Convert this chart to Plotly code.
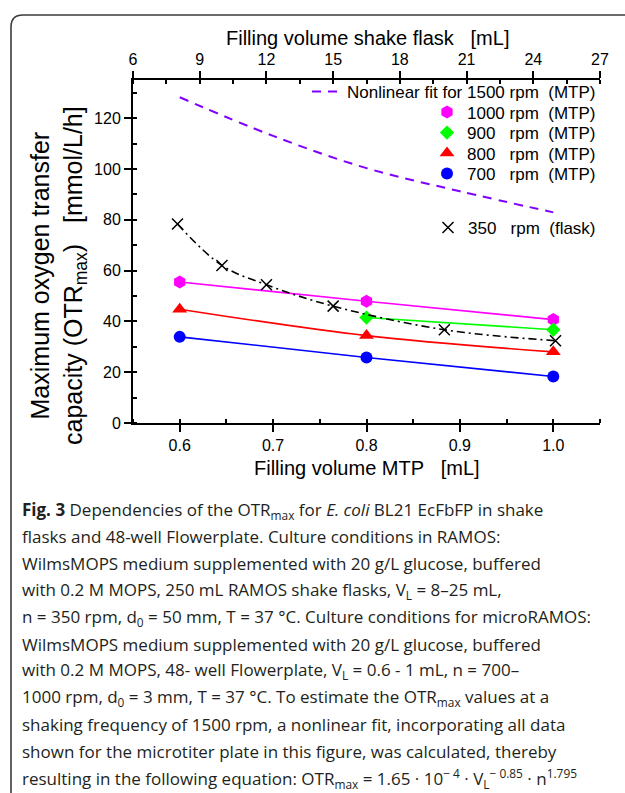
import plotly.graph_objects as go

# --- data -------------------------------------------------------------
vol_mtp = [0.6, 0.8, 1.0]                 # filling volume MTP [mL]
otr_1000 = [55.5, 47.9, 40.7]
otr_800 = [44.8, 34.4, 28.0]
otr_700 = [33.9, 25.8, 18.3]
vol_900 = [0.8, 1.0]
otr_900 = [41.5, 36.7]

vol_fit = [0.6, 0.7, 0.8, 0.9, 1.0]       # nonlinear fit, 1500 rpm
otr_fit_1500 = [128.2, 113.0, 100.3, 91.2, 82.9]

vol_flask = [8, 10, 12, 15, 20, 25]       # filling volume shake flask [mL]
otr_flask = [78.3, 62.0, 54.4, 46.0, 36.7, 32.4]

legend_labels = {
    "fit": "Nonlinear fit for 1500 rpm\u00a0\u00a0(MTP)",
    "1000": "1000 rpm\u00a0\u00a0(MTP)",
    "900": "900\u00a0\u00a0\u00a0rpm\u00a0\u00a0(MTP)",
    "800": "800\u00a0\u00a0\u00a0rpm\u00a0\u00a0(MTP)",
    "700": "700\u00a0\u00a0\u00a0rpm\u00a0\u00a0(MTP)",
    "flask": "350\u00a0\u00a0\u00a0rpm\u00a0\u00a0(flask)",
}

caption_lines = [
    "<b>Fig. 3</b> Dependencies of the OTR<sub>max</sub> for <i>E. coli</i> BL21 EcFbFP in shake",
    "flasks and 48-well Flowerplate. Culture conditions in RAMOS:",
    "WilmsMOPS medium supplemented with 20 g/L glucose, buffered",
    "with 0.2 M MOPS, 250 mL RAMOS shake flasks, V<sub>L</sub> = 8–25 mL,",
    "n = 350 rpm, d<sub>0</sub> = 50 mm, T = 37 °C. Culture conditions for microRAMOS:",
    "WilmsMOPS medium supplemented with 20 g/L glucose, buffered",
    "with 0.2 M MOPS, 48- well Flowerplate, V<sub>L</sub> = 0.6 - 1 mL, n = 700–",
    "1000 rpm, d<sub>0</sub> = 3 mm, T = 37 °C. To estimate the OTR<sub>max</sub> values at a",
    "shaking frequency of 1500 rpm, a nonlinear fit, incorporating all data",
    "shown for the microtiter plate in this figure, was calculated, thereby",
    "resulting in the following equation: OTR<sub>max</sub> = 1.65 · 10<sup>− 4</sup> · "
    "V<sub>L</sub><sup>− 0.85</sup> · n<sup>1.795</sup>",
]

# --- page geometry (pixels) -------------------------------------------
W, H = 625, 793
L, R, T, B = 133, 600, 80, 423   # plot area edges


def px(x):
    return (x - L) / (R - L)


def py(y):
    return (B - y) / (B - T)


SANS = "Liberation Sans, Arial, sans-serif"
CAP = "Open Sans, Noto Sans, sans-serif"

fig = go.Figure()

# fitted curve for 1500 rpm
fig.add_trace(go.Scatter(
    x=vol_fit, y=otr_fit_1500, mode="lines", line_shape="spline",
    line=dict(color="#8000ff", width=2, dash="9px,7px"),
    name=legend_labels["fit"], legend="legend",
))

series = [
    ("1000", vol_mtp, otr_1000, "#ff00ff", "hexagon", 13, "legend2"),
    ("900", vol_900, otr_900, "#00ff00", "diamond", 11, "legend3"),
    ("800", vol_mtp, otr_800, "#ff0000", "triangle-up", 13, "legend4"),
    ("700", vol_mtp, otr_700, "#0000ff", "circle", 12, "legend5"),
]
for key, xs, ys, col, sym, size, lg in series:
    fig.add_trace(go.Scatter(
        x=xs, y=ys, mode="lines", line_shape="spline",
        line=dict(color=col, width=1.6), showlegend=False, hoverinfo="skip",
    ))
    fig.add_trace(go.Scatter(
        x=xs, y=ys, mode="markers",
        marker=dict(color=col, symbol=sym, size=size, line=dict(width=0)),
        name=legend_labels[key], legend=lg,
    ))

# shake flask data on the top axis
fig.add_trace(go.Scatter(
    x=vol_flask, y=otr_flask, xaxis="x2", yaxis="y", mode="lines",
    line_shape="spline", line=dict(color="black", width=1.6, dash="8px,4px,2px,4px"),
    showlegend=False, hoverinfo="skip",
))
fig.add_trace(go.Scatter(
    x=vol_flask, y=otr_flask, xaxis="x2", yaxis="y", mode="markers",
    marker=dict(symbol="x-thin-open", size=11, color="black",
                line=dict(color="black", width=1.5)),
    name=legend_labels["flask"], legend="legend6",
))

axis_common = dict(
    showline=True, linecolor="black", linewidth=2, showgrid=False, zeroline=False,
    ticks="outside", ticklen=7, tickwidth=1.5, tickcolor="black",
    tickfont=dict(family=SANS, size=16, color="black"),
)
minor_common = dict(ticks="inside", ticklen=4, tickwidth=1.5, tickcolor="black", showgrid=False)

legend_rows = [("legend", 92), ("legend2", 112.5), ("legend3", 133),
               ("legend4", 153.5), ("legend5", 174), ("legend6", 228)]
legend_layout = {}
for name, yrow in legend_rows:
    legend_layout[name] = dict(
        x=px(601), xanchor="right", y=py(yrow), yanchor="middle",
        bgcolor="rgba(0,0,0,0)", borderwidth=0,
        font=dict(family=SANS, size=17, color="black"),
        itemclick=False, itemdoubleclick=False,
    )

annotations = [
    dict(text="Filling volume shake flask\u00a0\u00a0\u00a0[mL]", x=px(367), y=py(38),
         xref="paper", yref="paper", showarrow=False, xanchor="center", yanchor="middle",
         font=dict(family=SANS, size=20, color="black")),
    dict(text="Filling volume MTP\u00a0\u00a0\u00a0[mL]", x=px(367), y=py(468),
         xref="paper", yref="paper", showarrow=False, xanchor="center", yanchor="middle",
         font=dict(family=SANS, size=20, color="black")),
    dict(text="Maximum oxygen transfer<br>capacity (OTR<sub>max</sub>)\u00a0\u00a0\u00a0[mmol/L/h]",
         x=px(58), y=py(276), xref="paper", yref="paper", showarrow=False,
         xanchor="center", yanchor="middle", textangle=-90, align="center",
         font=dict(family=SANS, size=25, color="black")),
]
for i, line in enumerate(caption_lines):
    annotations.append(dict(
        text=line, x=px(20), y=py(510 + 26.8 * i), xref="paper", yref="paper",
        showarrow=False, xanchor="left", yanchor="middle", align="left",
        font=dict(family=CAP, size=17, color="#231f20"),
    ))

# rounded frame around the figure panel
fx0, fy0, rad = 11, 15, 12
frame = (f"M {px(fx0)},{py(800)} L {px(fx0)},{py(fy0 + rad)} "
         f"Q {px(fx0)},{py(fy0)} {px(fx0 + rad)},{py(fy0)} L {px(650)},{py(fy0)}")

fig.update_layout(
    width=W, height=H, margin=dict(l=L, r=W - R, t=T, b=H - B),
    paper_bgcolor="white", plot_bgcolor="white",
    xaxis=dict(range=[0.55, 1.05], tick0=0.6, dtick=0.1, tickformat=".1f",
               minor=dict(dtick=0.05, tick0=0.55, **minor_common), **axis_common),
    xaxis2=dict(range=[6, 27], tick0=6, dtick=3, overlaying="x", side="top", anchor="y",
                minor=dict(dtick=1.5, tick0=6, **minor_common), **axis_common),
    yaxis=dict(range=[0, 135], tick0=0, dtick=20,
               minor=dict(dtick=10, tick0=0, **minor_common), **axis_common),
    yaxis2=dict(range=[0, 135], tick0=0, dtick=10, overlaying="y", side="right", anchor="x",
                showline=True, linecolor="black", linewidth=2, showgrid=False, zeroline=False,
                ticks="outside", ticklen=4, tickwidth=1.5, tickcolor="black",
                showticklabels=False),
    annotations=annotations,
    shapes=[dict(type="path", path=frame, xref="paper", yref="paper",
                 line=dict(color="#3c3c3c", width=1.6))],
    **legend_layout,
)

fig.write_html("out.html")
